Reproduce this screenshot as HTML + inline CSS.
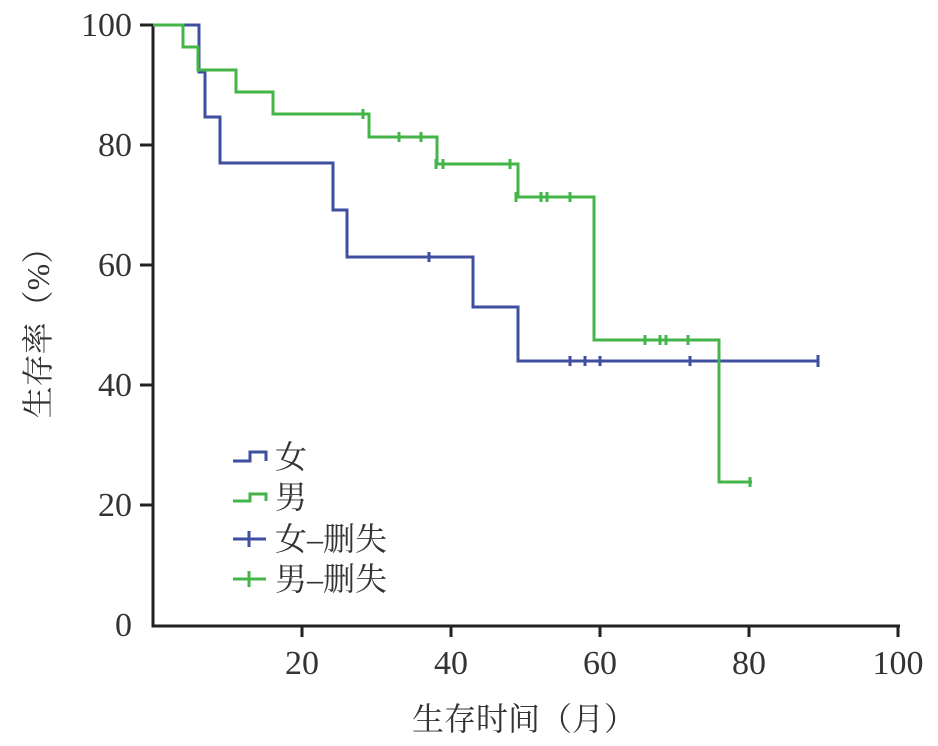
<!DOCTYPE html>
<html><head><meta charset="utf-8"><style>
body{margin:0;background:#fff}
svg{display:block}
text{font-family:"Liberation Serif","Noto Serif CJK SC",serif;fill:#333}
</style></head><body>
<svg width="938" height="746" viewBox="0 0 938 746" xmlns="http://www.w3.org/2000/svg">
<g stroke="#222" stroke-width="3" fill="none">
<path d="M153,24 V626 H900"/>
<path d="M140,25H153M140,145H153M140,265H153M140,385H153M140,505H153"/>
<path d="M302,626V637M451,626V637M600,626V637M749,626V637M898,626V637"/>
</g>
<g font-size="34" text-anchor="end">
<text x="132" y="36">100</text><text x="132" y="156">80</text><text x="132" y="276">60</text>
<text x="132" y="396">40</text><text x="132" y="516">20</text><text x="132" y="636">0</text>
</g>
<g font-size="34" text-anchor="middle">
<text x="302" y="674">20</text><text x="451" y="674">40</text><text x="600" y="674">60</text>
<text x="749" y="674">80</text><text x="898" y="674">100</text>
</g>
<text x="524" y="730" font-size="32" text-anchor="middle">生存时间（月）</text>
<text transform="translate(49,325) rotate(-90)" font-size="32" text-anchor="middle">生存率（%）</text>
<g fill="none" stroke-width="3">
<path stroke="#3f4fa0" d="M153,25H199V72H205V117H220V163H333V210H347V257H473V307H518V361H818"/>
<path stroke="#3f4fa0" d="M429,252V262M570,356V366M585,356V366M600,356V366M690,356V366M818,355V367"/>
<path stroke="#44b549" d="M153,25H183V47H198V70H236V92H273V114H369V137H437V164H518V197H594V340H719V482H752"/>
<path stroke="#44b549" d="M363,109V119M399,132V142M421,132V142M436,159V169M443,159V169M510,159V169M516,192V202M541,192V202M547,192V202M570,192V202M645,335V345M660,335V345M666,335V345M688,335V345M750,477V487"/>
<path stroke="#3f4fa0" d="M233,461H250V452H266V461"/>
<path stroke="#44b549" d="M233,501H250V494H266V501"/>
<path stroke="#3f4fa0" d="M233,539H266M249,531V547"/>
<path stroke="#44b549" d="M233,579H266M249,571V587"/>
</g>
<g font-size="32">
<text x="275" y="468">女</text><text x="275" y="508">男</text>
<text x="275" y="550">女–删失</text><text x="275" y="590">男–删失</text>
</g>
</svg>
</body></html>
